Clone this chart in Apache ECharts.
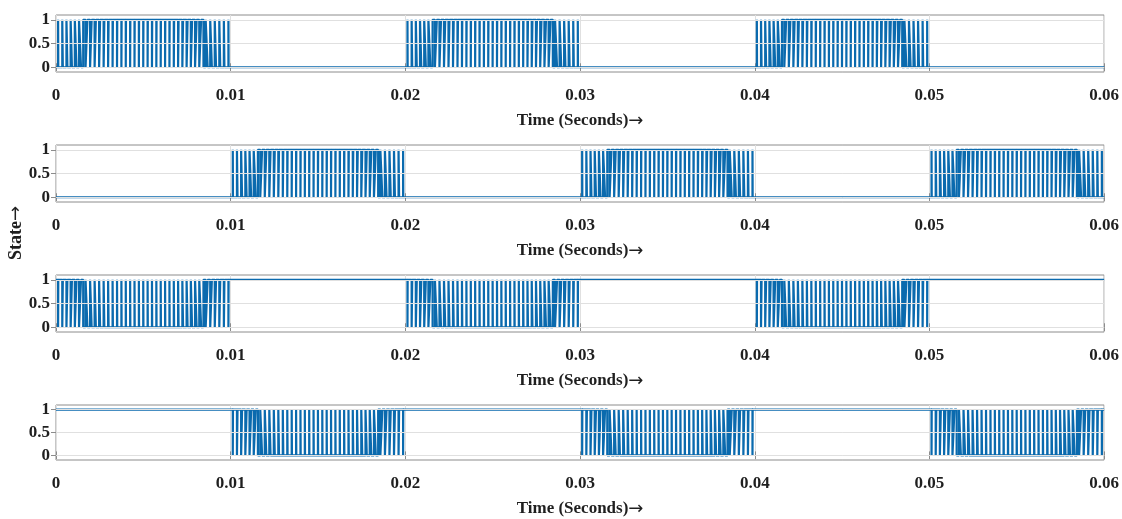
<!DOCTYPE html>
<html>
<head>
<meta charset="utf-8">
<script src="https://cdn.jsdelivr.net/npm/echarts@6/dist/echarts.min.js"></script>
<style>
html,body{margin:0;padding:0;background:#fff;}
#chart{width:1122px;height:519px;}
</style>
</head>
<body>
<div id="chart"></div>
<script>
// x-axis ticks (seconds)
const xTicks = [0, 0.01, 0.02, 0.03, 0.04, 0.05, 0.06];
// y-axis ticks (state)
const yTicks = [0, 0.5, 1];
// Switching pulses inside one 10 ms active half-cycle: rising / falling edges (ms from window start)
const pulseRiseMs = [0.120,0.359,0.598,0.838,1.078,1.318,1.558,1.799,2.040,2.282,
  2.524,2.767,3.011,3.257,3.506,3.756,4.006,4.256,4.506,4.756,
  5.006,5.256,5.506,5.756,6.006,6.256,6.507,6.761,7.017,7.274,
  7.532,7.790,8.049,8.308,8.568,8.828,9.088,9.348,9.609,9.870];
const pulseFallMs = [0.130,0.391,0.652,0.912,1.172,1.432,1.692,1.951,2.210,2.468,
  2.726,2.983,3.239,3.493,3.744,3.994,4.244,4.494,4.744,4.994,
  5.244,5.494,5.744,5.994,6.244,6.494,6.743,6.989,7.233,7.476,
  7.718,7.960,8.201,8.442,8.682,8.922,9.162,9.402,9.641,9.880];
// Active switching windows (start, ms) of each gate signal
const windowsS1 = [0, 20, 40];   // panel 1
const windowsS2 = [10, 30, 50];  // panel 2
const panelWindows = [windowsS1, windowsS2, windowsS1, windowsS2];
const panelInverted = [false, false, true, true];
const endTimeMs = 60;

function buildSignal(wins, inv) {
  const lo = inv ? 1 : 0, hi = inv ? 0 : 1;
  const pts = [[0, lo]];
  wins.forEach(w => {
    for (let k = 0; k < pulseRiseMs.length; k++) {
      const r = (w + pulseRiseMs[k]) / 1000, f = (w + pulseFallMs[k]) / 1000;
      pts.push([r, lo], [r, hi], [f, hi], [f, lo]);
    }
  });
  pts.push([endTimeMs / 1000, lo]);
  return pts;
}

const FONT = 'Liberation Serif';
const TXT = '#1f1f1f';
const tops = [15, 145, 275, 405];
const grids = [], xAxes = [], yAxes = [], series = [];
tops.forEach((t, i) => {
  grids.push({left: 56, right: 17, top: t, height: 57, show: true, borderColor: '#8c8c8c', borderWidth: 1, backgroundColor: '#fff'});
  xAxes.push({
    type: 'value', gridIndex: i, min: 0, max: 0.06, interval: 0.01, position: 'bottom',
    axisLine: {show: false},
    axisTick: {show: true, inside: true, length: 4, lineStyle: {color: '#8c8c8c'}},
    axisLabel: {show: true, margin: 15, fontFamily: FONT, fontWeight: 'bold', fontSize: 17, color: TXT,
      formatter: v => String(+v.toFixed(2))},
    splitLine: {show: true, lineStyle: {color: '#e0e0e0', width: 1}},
    name: '{a|Time (Seconds)}{b|\u2192}', nameLocation: 'middle', nameGap: 40,
    nameTextStyle: {fontFamily: FONT, fontWeight: 'bold', fontSize: 17, color: TXT,
      rich: {
        a: {fontFamily: FONT, fontWeight: 'bold', fontSize: 17, color: TXT},
        b: {fontFamily: 'DejaVu Sans', fontWeight: 'normal', fontSize: 18, color: TXT}
      }}
  });
  xAxes.push({
    type: 'value', gridIndex: i, min: 0, max: 0.06, interval: 0.01, position: 'top',
    axisLine: {show: false}, axisLabel: {show: false}, splitLine: {show: false},
    axisTick: {show: true, inside: true, length: 4, lineStyle: {color: '#8c8c8c'}}
  });
  yAxes.push({
    type: 'value', gridIndex: i, min: -0.1, max: 1.1, position: 'left',
    axisLine: {show: false},
    axisTick: {show: true, inside: true, length: 5, customValues: yTicks, lineStyle: {color: '#8c8c8c'}},
    axisLabel: {show: true, margin: 6, customValues: yTicks, fontFamily: FONT, fontWeight: 'bold', fontSize: 17, color: TXT},
    splitLine: {show: false}
  });
  yAxes.push({
    type: 'value', gridIndex: i, min: -0.1, max: 1.1, position: 'right',
    axisLine: {show: false}, axisLabel: {show: false}, splitLine: {show: false},
    axisTick: {show: true, inside: true, length: 5, customValues: yTicks, lineStyle: {color: '#8c8c8c'}}
  });
  series.push({
    type: 'line', xAxisIndex: 2 * i, yAxisIndex: 2 * i, data: [], silent: true, z: 1,
    markLine: {silent: true, symbol: 'none', label: {show: false}, animation: false,
      lineStyle: {color: '#e0e0e0', width: 1, type: 'solid'},
      data: yTicks.map(v => ({yAxis: v}))}
  });
  series.push({
    type: 'line', xAxisIndex: 2 * i, yAxisIndex: 2 * i, z: 3,
    data: buildSignal(panelWindows[i], panelInverted[i]),
    showSymbol: false, symbol: 'none', animation: false,
    lineStyle: {color: '#0a6aae', width: 2.2},
    sampling: null
  });
});

const chart = echarts.init(document.getElementById('chart'), null, {renderer: 'canvas'});
chart.setOption({
  animation: false,
  grid: grids, xAxis: xAxes, yAxis: yAxes, series: series,
  graphic: [{
    type: 'text', left: 7, top: 206, rotation: Math.PI / 2,
    style: {
      text: '{a|State}{b|\u2192}',
      rich: {
        a: {fontFamily: FONT, fontWeight: 'bold', fontSize: 18, fill: TXT},
        b: {fontFamily: 'DejaVu Sans', fontSize: 18, fill: TXT}
      },
      fontFamily: FONT, fontWeight: 'bold', fontSize: 18, fill: TXT
    }
  }]
});
</script>
</body>
</html>
